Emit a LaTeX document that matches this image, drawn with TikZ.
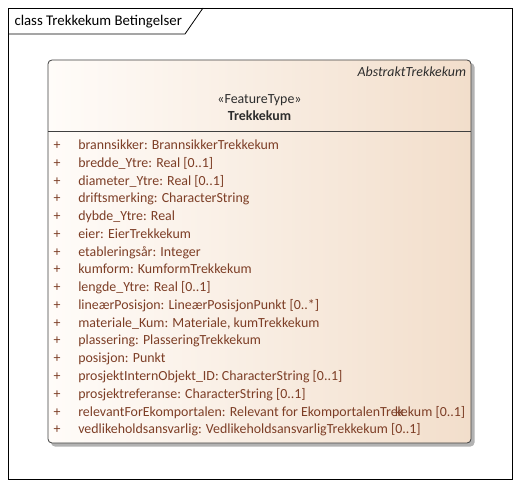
\documentclass[tikz,border=0pt]{standalone}
\usepackage{fontspec}
\setmainfont{Carlito}
\definecolor{attr}{RGB}{125,62,38}
\definecolor{hdr}{RGB}{45,45,45}
\definecolor{peach}{RGB}{242,222,203}
\definecolor{paleface}{RGB}{255,252,249}
\begin{document}
\begin{tikzpicture}[x=1pt,y=-1pt,
  every node/.style={inner sep=0pt,outer sep=0pt,font=\fontsize{13.9}{16}\selectfont},
  attrtext/.style={anchor=base west,text=attr},
  plustext/.style={anchor=base,text=attr},
  hdrtext/.style={anchor=base,text=hdr}]
\useasboundingbox (0,0) rectangle (520,489);
\fill[white] (0,0) rectangle (520,489);
% frame
\draw[black,line width=0.8pt] (8,8) rectangle (512,479);
\draw[black,line width=0.8pt] (8,34) -- (185,34) -- (203,8);
\node[anchor=base west,font=\fontsize{14.8}{17}\selectfont] (title) at (14.5,26) {class Trekkekum Betingelser};
% class box
\fill[black!30,rounded corners=4pt] (51,63) rectangle (474.5,446.5);
\shade[left color=paleface,right color=peach,draw=black!75,line width=0.8pt,rounded corners=4pt] (48,60) rectangle (471,443);
\draw[black!75,line width=0.8pt] (48,131) -- (471,131);
\node[anchor=base east,text=hdr,font=\fontsize{13.9}{16}\itshape] (abs) at (466,76.5) {AbstraktTrekkekum};
\node[hdrtext] (stereo) at (259.5,104) {«FeatureType»};
\node[hdrtext,font=\fontsize{13.9}{16}\bfseries] (name) at (259.5,120.5) {Trekkekum};
\foreach \t [count=\i from 0] in {
  {brannsikker: BrannsikkerTrekkekum},
  {bredde\_Ytre: Real [0..1]},
  {diameter\_Ytre: Real [0..1]},
  {driftsmerking: CharacterString},
  {dybde\_Ytre: Real},
  {eier: EierTrekkekum},
  {etableringsår: Integer},
  {kumform: KumformTrekkekum},
  {lengde\_Ytre: Real [0..1]},
  {lineærPosisjon: LineærPosisjonPunkt [0..*]},
  {materiale\_Kum: Materiale, kumTrekkekum},
  {plassering: PlasseringTrekkekum},
  {posisjon: Punkt},
  {prosjektInternObjekt\_ID: CharacterString [0..1]},
  {prosjektreferanse: CharacterString [0..1]},
  {relevantForEkomportalen: Relevant for EkomportalenTrek\kern-9pt kekum [0..1]},
  {vedlikeholdsansvarlig: VedlikeholdsansvarligTrekkekum [0..1]}}
{
  \node[plustext] (p\i) at (57,149.5+17.77*\i) {+};
  \node[attrtext] (a\i) at (78.3,149.5+17.77*\i) {\t};
}
\end{tikzpicture}
\end{document}
